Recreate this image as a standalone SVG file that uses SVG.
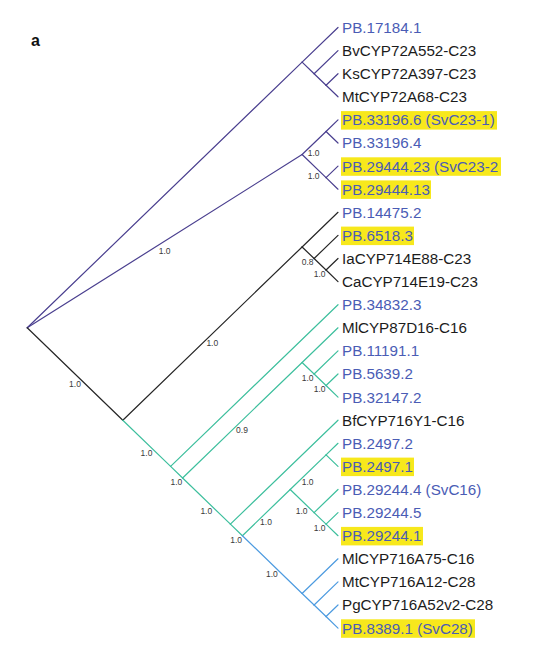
<svg xmlns="http://www.w3.org/2000/svg" width="536" height="652" viewBox="0 0 536 652">
<style>
.e{fill:none;stroke-width:1.2;stroke-linecap:round}
.p{stroke:#4a3f8f}.k{stroke:#262626}.t{stroke:#3dbf9d}.b{stroke:#4d9be0}
.lb{font-family:"Liberation Sans",Arial,sans-serif;font-size:15.2px;fill:#4a5cb5}
.lk{font-family:"Liberation Sans",Arial,sans-serif;font-size:15.2px;fill:#1c1c1c}
.hl{fill:#f7e81c}
.s{font-family:"Liberation Sans",Arial,sans-serif;font-size:8.5px;fill:#3a3a3a;text-anchor:middle}
</style>
<rect width="536" height="652" fill="#ffffff"/>
<text x="31" y="46" font-family="Liberation Sans,Arial,sans-serif" font-size="16" font-weight="bold" fill="#111">a</text>
<g id="connectors">
<g class="e p">
<line x1="27.2" y1="327.8" x2="302.1" y2="62.15"/>
<line x1="302.1" y1="62.15" x2="338" y2="27.5"/>
<line x1="302.1" y1="62.15" x2="314.1" y2="73.7"/>
<line x1="314.1" y1="73.7" x2="338" y2="50.6"/>
<line x1="314.1" y1="73.7" x2="326.05" y2="85.25"/>
<line x1="326.05" y1="85.25" x2="338" y2="73.7"/>
<line x1="326.05" y1="85.25" x2="338" y2="96.8"/>
<line x1="27.2" y1="327.8" x2="302.1" y2="154.55"/>
<line x1="302.1" y1="154.55" x2="326.05" y2="131.45"/>
<line x1="326.05" y1="131.45" x2="338" y2="119.9"/>
<line x1="326.05" y1="131.45" x2="338" y2="143"/>
<line x1="302.1" y1="154.55" x2="326.05" y2="177.65"/>
<line x1="326.05" y1="177.65" x2="338" y2="166.1"/>
<line x1="326.05" y1="177.65" x2="338" y2="189.2"/>
</g>
<g class="e k">
<line x1="27.2" y1="327.8" x2="122.8" y2="420.2"/>
<line x1="122.8" y1="420.2" x2="302.1" y2="246.95"/>
<line x1="302.1" y1="246.95" x2="338" y2="212.3"/>
<line x1="302.1" y1="246.95" x2="314.1" y2="258.5"/>
<line x1="314.1" y1="258.5" x2="338" y2="235.4"/>
<line x1="314.1" y1="258.5" x2="326.05" y2="270.05"/>
<line x1="326.05" y1="270.05" x2="338" y2="258.5"/>
<line x1="326.05" y1="270.05" x2="338" y2="281.6"/>
</g>
<g class="e t">
<line x1="122.8" y1="420.2" x2="170.6" y2="466.4"/>
<line x1="170.6" y1="466.4" x2="338" y2="304.7"/>
<line x1="170.6" y1="466.4" x2="182.6" y2="477.95"/>
<line x1="182.6" y1="477.95" x2="302.1" y2="362.45"/>
<line x1="302.1" y1="362.45" x2="338" y2="327.8"/>
<line x1="302.1" y1="362.45" x2="314.1" y2="374"/>
<line x1="314.1" y1="374" x2="338" y2="350.9"/>
<line x1="314.1" y1="374" x2="326.05" y2="385.55"/>
<line x1="326.05" y1="385.55" x2="338" y2="374"/>
<line x1="326.05" y1="385.55" x2="338" y2="397.1"/>
<line x1="182.6" y1="477.95" x2="230.4" y2="524.15"/>
<line x1="230.4" y1="524.15" x2="338" y2="420.2"/>
<line x1="230.4" y1="524.15" x2="242.4" y2="535.7"/>
<line x1="242.4" y1="535.7" x2="290.2" y2="489.5"/>
<line x1="290.2" y1="489.5" x2="326.05" y2="454.85"/>
<line x1="326.05" y1="454.85" x2="338" y2="443.3"/>
<line x1="326.05" y1="454.85" x2="338" y2="466.4"/>
<line x1="290.2" y1="489.5" x2="314.1" y2="512.6"/>
<line x1="314.1" y1="512.6" x2="338" y2="489.5"/>
<line x1="314.1" y1="512.6" x2="326.05" y2="524.15"/>
<line x1="326.05" y1="524.15" x2="338" y2="512.6"/>
<line x1="326.05" y1="524.15" x2="338" y2="535.7"/>
</g>
<g class="e b">
<line x1="242.4" y1="535.7" x2="302.1" y2="593.45"/>
<line x1="302.1" y1="593.45" x2="338" y2="558.8"/>
<line x1="302.1" y1="593.45" x2="314.1" y2="605"/>
<line x1="314.1" y1="605" x2="338" y2="581.9"/>
<line x1="314.1" y1="605" x2="326.05" y2="616.55"/>
<line x1="326.05" y1="616.55" x2="338" y2="605"/>
<line x1="326.05" y1="616.55" x2="338" y2="628.1"/>
</g>
<g id="support">
<text class="s" x="164.6" y="253.8">1.0</text>
<text class="s" x="313.6" y="155.6">1.0</text>
<text class="s" x="313.6" y="178.7">1.0</text>
<text class="s" x="75" y="386.6">1.0</text>
<text class="s" x="212.3" y="346.2">1.0</text>
<text class="s" x="307.6" y="265.3">0.8</text>
<text class="s" x="319.6" y="276.9">1.0</text>
<text class="s" x="146.5" y="455.9">1.0</text>
<text class="s" x="176.4" y="484.8">1.0</text>
<text class="s" x="242" y="432.8">0.9</text>
<text class="s" x="307.6" y="380.8">1.0</text>
<text class="s" x="319.6" y="392.4">1.0</text>
<text class="s" x="206.3" y="513.6">1.0</text>
<text class="s" x="236.1" y="542.5">1.0</text>
<text class="s" x="266" y="525.2">1.0</text>
<text class="s" x="307.6" y="484.8">1.0</text>
<text class="s" x="301.7" y="513.6">1.0</text>
<text class="s" x="319.6" y="531">1.0</text>
<text class="s" x="271.9" y="577.2">1.0</text>
</g>
</g>
<g id="leaf01"><text class="lb" x="342" y="32.9">PB.17184.1</text></g>
<g id="leaf02"><text class="lk" x="342" y="56">BvCYP72A552-C23</text></g>
<g id="leaf03"><text class="lk" x="342" y="79.1">KsCYP72A397-C23</text></g>
<g id="leaf04"><text class="lk" x="342" y="102.2">MtCYP72A68-C23</text></g>
<g id="leaf05"><rect class="hl" x="341" y="111.1" width="156" height="18.5"/><text class="lb" x="342" y="125.3">PB.33196.6 (SvC23-1)</text></g>
<g id="leaf06"><text class="lb" x="342" y="148.4">PB.33196.4</text></g>
<g id="leaf07"><rect class="hl" x="341" y="157.3" width="160" height="18.5"/><text class="lb" x="342" y="171.5">PB.29444.23 (SvC23-2</text></g>
<g id="leaf08"><rect class="hl" x="341" y="180.4" width="90" height="18.5"/><text class="lb" x="342" y="194.6">PB.29444.13</text></g>
<g id="leaf09"><text class="lb" x="342" y="217.7">PB.14475.2</text></g>
<g id="leaf10"><rect class="hl" x="341" y="226.6" width="73" height="18.5"/><text class="lb" x="342" y="240.8">PB.6518.3</text></g>
<g id="leaf11"><text class="lk" x="342" y="263.9">IaCYP714E88-C23</text></g>
<g id="leaf12"><text class="lk" x="342" y="287">CaCYP714E19-C23</text></g>
<g id="leaf13"><text class="lb" x="342" y="310.1">PB.34832.3</text></g>
<g id="leaf14"><text class="lk" x="342" y="333.2">MlCYP87D16-C16</text></g>
<g id="leaf15"><text class="lb" x="342" y="356.3">PB.11191.1</text></g>
<g id="leaf16"><text class="lb" x="342" y="379.4">PB.5639.2</text></g>
<g id="leaf17"><text class="lb" x="342" y="402.5">PB.32147.2</text></g>
<g id="leaf18"><text class="lk" x="342" y="425.6">BfCYP716Y1-C16</text></g>
<g id="leaf19"><text class="lb" x="342" y="448.7">PB.2497.2</text></g>
<g id="leaf20"><rect class="hl" x="341" y="457.6" width="73" height="18.5"/><text class="lb" x="342" y="471.8">PB.2497.1</text></g>
<g id="leaf21"><text class="lb" x="342" y="494.9">PB.29244.4 (SvC16)</text></g>
<g id="leaf22"><text class="lb" x="342" y="518">PB.29244.5</text></g>
<g id="leaf23"><rect class="hl" x="341" y="526.9" width="82" height="18.5"/><text class="lb" x="342" y="541.1">PB.29244.1</text></g>
<g id="leaf24"><text class="lk" x="342" y="564.2">MlCYP716A75-C16</text></g>
<g id="leaf25"><text class="lk" x="342" y="587.3">MtCYP716A12-C28</text></g>
<g id="leaf26"><text class="lk" x="342" y="610.4">PgCYP716A52v2-C28</text></g>
<g id="leaf27"><rect class="hl" x="341" y="619.3" width="134" height="18.5"/><text class="lb" x="342" y="633.5">PB.8389.1 (SvC28)</text></g>
</svg>
